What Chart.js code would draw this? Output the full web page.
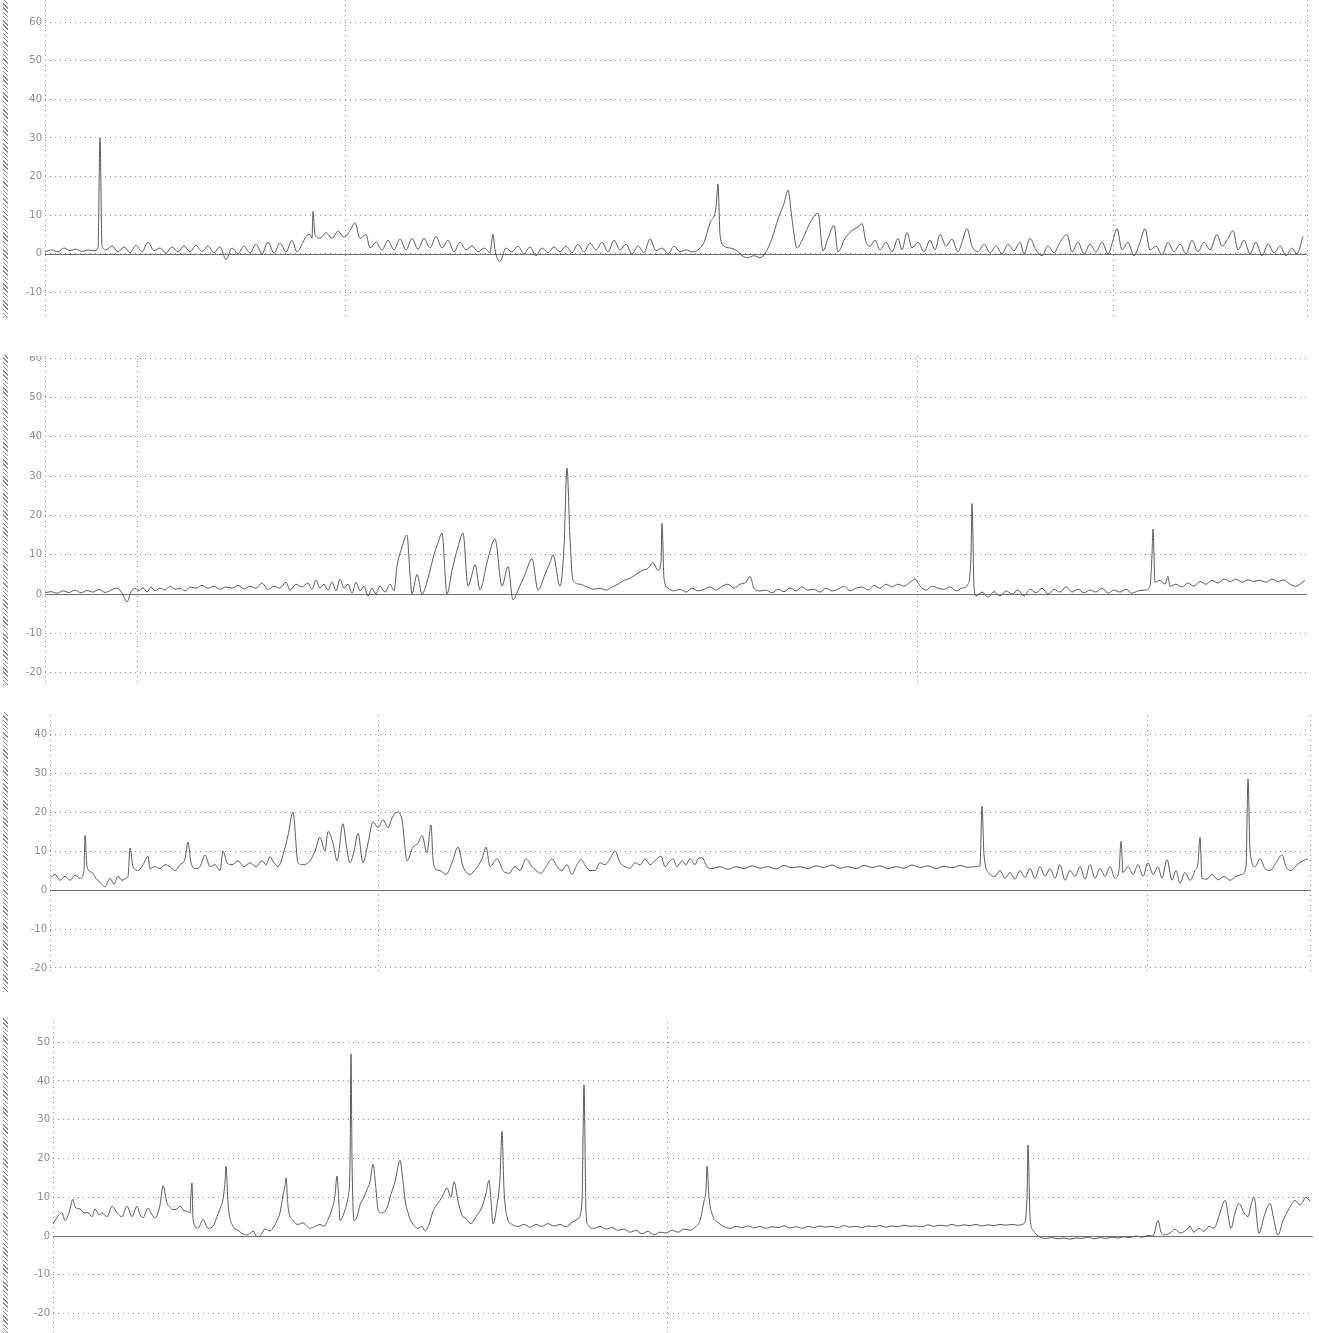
<!DOCTYPE html>
<html>
<head>
<meta charset="utf-8">
<script src="https://cdn.jsdelivr.net/npm/chart.js@4/dist/chart.umd.min.js"></script>
<style>
  html, body { margin: 0; padding: 0; background: #fff; }
  body { position: relative; width: 1319px; height: 1333px; overflow: hidden; }
  canvas { position: absolute; left: 0; }
  .edge {
    position: absolute; left: 3px; width: 5px;
    background: repeating-linear-gradient(45deg, #8a8a8a 0 1px, #fff 1px 3px);
  }
</style>
</head>
<body>
<div class="edge" style="top:0;height:318px"></div>
<div class="edge" style="top:355px;height:330px"></div>
<div class="edge" style="top:712px;height:280px"></div>
<div class="edge" style="top:1018px;height:315px"></div>
<canvas id="p1" width="1319" height="316" style="top:0"></canvas>
<canvas id="p2" width="1319" height="330" style="top:356px"></canvas>
<canvas id="p3" width="1319" height="260" style="top:715px"></canvas>
<canvas id="p4" width="1319" height="311" style="top:1022px"></canvas>
<script>
/* ============================================================
   Four stacked strip-charts, [sample, value] pairs
   ============================================================ */

const samples1 = [
  [0,0.5],[7,1],[13,0.5],[19,1.5],[25,0.8],[31,1.2],[37,0.6],[43,1],[49,0.8],[53,1.5],
  [55,30],[57,2],[61,1],[67,2],[73,0.5],[79,1.8],[85,0.3],[91,2.2],[97,0.5],[103,3],
  [109,0.8],[115,1.5],[121,0.2],[127,1.8],[133,0.5],[139,2],[145,0.5],[151,2.2],[157,0.6],[163,2],
  [169,0.3],[175,1.8],[181,-1.5],[187,1.5],[193,0],[199,2],[205,0.2],[211,2.5],[217,0],[223,3],
  [229,0.2],[235,2.8],[241,0.5],[247,3.5],[252,0.5],[258,3],[261,4.5],[265,5],[267,4],[268,11],
  [270,5],[275,4],[281,5.5],[287,4],[293,5.8],[299,4.3],[305,6],[310,8],[315,4],[321,5],
  [325,1.5],[331,3],[337,1],[343,3.5],[349,1],[355,3.8],[361,1],[367,4],[373,1.2],[379,4],
  [385,1.5],[391,4.5],[397,1.5],[403,3.5],[409,0.5],[415,3],[421,1],[427,2],[433,0.5],[439,1.5],
  [445,0.3],[448,5],[450,1],[455,-2],[461,1.5],[467,0.5],[473,2],[479,0],[485,1.8],[491,-0.5],
  [497,1.5],[503,0.3],[509,1.8],[515,0.5],[521,2],[527,0.3],[533,2.5],[539,0.5],[545,2.8],[551,1],
  [557,3],[563,0.5],[569,3.5],[575,1],[581,2.5],[587,0],[593,2],[599,0.3],[605,3.8],[611,0.8],
  [617,1.5],[623,0],[629,2],[635,0.5],[641,1],[647,0.5],[653,1],[659,3],[665,8],[671,12],
  [673,18],[675,5],[679,2],[685,1.5],[691,1],[697,-0.5],[703,-1],[709,-0.5],[715,-1],[721,0.5],
  [727,4],[733,9],[739,13],[743,16.5],[747,9],[752,1.5],[758,4],[765,8],[773,10.5],[778,0.8],
  [783,4],[789,7.3],[793,0.5],[800,4],[807,6],[813,7],[817,7.8],[821,3],[825,2],[830,3.5],
  [835,1],[841,3],[847,0.5],[853,4],[857,1],[862,5.5],[867,1.5],[873,3],[879,0.5],[885,3.5],
  [890,1],[895,5],[901,2],[907,3.8],[913,0.5],[917,3],[922,6.5],[927,2],[933,0.5],[939,2.5],
  [945,0.3],[951,2],[957,0],[963,2.5],[969,0.8],[975,3],[979,0],[985,4],[991,1],[997,-0.5],
  [1003,2],[1009,0.3],[1015,3],[1022,5],[1027,0.5],[1033,3],[1039,0],[1045,2.5],[1051,0.5],[1057,3],
  [1063,0],[1068,3.5],[1072,6.5],[1077,1],[1083,3],[1089,-0.5],[1095,3],[1100,6.5],[1105,1],[1111,2],
  [1117,-0.3],[1123,3],[1129,0.5],[1135,2.5],[1141,0],[1147,3.5],[1153,0.5],[1159,3],[1165,1],[1172,5],
  [1177,2],[1183,4],[1188,6],[1193,1],[1199,3.5],[1205,0],[1211,3],[1217,-0.5],[1223,2.5],[1229,0.3],
  [1235,2],[1241,-0.5],[1247,1.5],[1252,0],[1258,4.5],
];

const samples2 = [
  [0,0.3],[6,0.6],[12,0.2],[18,0.8],[24,0.4],[30,1],[36,0.3],[42,0.9],[48,0.5],[54,1.2],
  [60,0.4],[66,1],[72,1.5],[77,0.3],[82,-2],[86,0.5],[90,1.5],[94,0.8],[98,1.6],[102,0.5],
  [106,1.8],[110,0.8],[115,1.5],[120,1],[125,2],[130,1.2],[135,1.5],[140,0.8],[145,1.8],[151,1.5],
  [157,2.2],[163,1.5],[169,2],[175,1.2],[181,1.8],[187,1.5],[193,2.2],[199,1.3],[205,2],[211,1.5],
  [217,2.8],[223,1.2],[229,2],[235,1.5],[241,3],[245,1],[251,2.5],[257,1.8],[263,2.8],[267,1.2],
  [271,3.5],[275,1.5],[279,2.5],[283,1],[287,3],[291,0.8],[295,3.8],[299,1.5],[303,2.5],[307,0.2],
  [311,3],[315,0.8],[319,2],[323,-0.5],[327,1.5],[331,0],[335,2],[340,0.5],[345,2.5],[349,0.8],
  [352,7],[357,12],[362,15],[365,5],[367,0],[372,5],[377,0],[383,4],[389,10],[393,13],
  [397,15.5],[402,0],[407,6],[413,12],[418,15.5],[423,2],[427,5],[430,7.5],[435,1],[442,8],
  [450,14],[457,2],[463,7],[468,-1.5],[473,1],[480,5],[487,9],[493,1],[500,5],[505,8],
  [508,10],[515,2],[519,12],[522,32],[525,14],[528,3.5],[535,2.5],[542,1.8],[549,1.2],[555,1.5],
  [561,1],[567,1.8],[573,2.5],[579,3.5],[585,4],[591,5],[597,6],[603,6.5],[608,8],[613,6],
  [616,8],[617,18],[619,4],[623,1.5],[629,0.8],[635,1.2],[641,0.5],[647,1.5],[653,0.8],[659,1.2],
  [665,1.8],[671,1],[677,2],[683,2.5],[689,1.5],[695,2.5],[701,3],[705,4.5],[709,1.5],[715,0.8],
  [721,1],[727,0.3],[733,1.2],[739,0.6],[745,1.5],[751,0.8],[757,1.8],[763,1],[769,1.2],[775,0.5],
  [781,1.5],[787,0.8],[793,1.2],[799,2],[805,0.8],[811,1.5],[817,1.8],[823,1],[829,2.2],[835,1.5],
  [841,2.5],[847,1.8],[853,2.5],[859,2],[865,3],[870,3.8],[875,2],[881,1],[887,2],[893,1.5],
  [899,1.2],[905,1.8],[911,0.8],[917,1.5],[923,2.5],[926,10],[927,23],[929,2],[931,-0.5],[937,0.5],
  [943,-0.8],[949,0.6],[955,-0.5],[961,0.8],[967,0],[973,1],[979,-0.5],[985,1.2],[991,0.3],[997,1.5],
  [1003,0],[1009,1.2],[1015,0.5],[1021,1.8],[1027,0.5],[1033,1.2],[1039,0.3],[1045,1],[1051,0.5],[1057,1.5],
  [1063,0.2],[1069,1],[1075,0.5],[1081,1.2],[1087,0.2],[1093,0.8],[1099,1],[1105,2],[1107,10],[1108,16.5],
  [1110,3],[1115,3.5],[1120,2.5],[1123,4.5],[1125,2],[1131,2.5],[1137,1.8],[1143,2.8],[1149,2],[1155,3.2],
  [1161,2.5],[1167,3.5],[1173,2.8],[1179,3.8],[1185,3.2],[1191,3.8],[1197,3],[1203,3.6],[1209,3.2],[1215,3.5],
  [1221,3],[1227,3.8],[1233,3.2],[1239,3.6],[1245,2.5],[1251,2],[1255,2.5],[1260,3.5],
];

const samples3 = [
  [0,3],[5,4],[10,2.5],[15,3.5],[20,2.5],[25,3.8],[30,3],[34,5],[35,14],[37,6],
  [42,4.5],[46,3],[50,2],[55,0.8],[60,3],[64,1.5],[68,3.5],[72,2.5],[76,3],[78,3.5],
  [80,10.8],[83,6],[88,5],[93,6.5],[98,8.7],[100,5.5],[105,6],[110,5.5],[115,6.5],[120,6],
  [125,5],[130,6.5],[135,8],[138,12.3],[141,7],[146,5.5],[150,6],[155,9],[160,6],[165,6.5],
  [170,5],[173,10],[177,7],[182,6.5],[188,7.5],[194,6],[200,7],[206,6],[212,7.5],[216,6.5],
  [220,8.5],[224,7],[228,6],[233,9],[238,14],[243,20],[248,7],[253,6.5],[260,7.5],[265,10],
  [270,13.5],[275,10],[278,15],[283,12],[287,7.5],[293,17],[296,12],[300,7],[304,10],[308,14.5],
  [313,7],[318,12],[323,17.5],[328,16],[333,18],[338,16],[342,18.5],[347,20],[352,18],[357,7.5],
  [363,11],[368,12],[372,14],[377,9.5],[381,16.7],[383,8],[385,5.5],[390,5],[396,4],[402,7],
  [408,11],[413,6],[420,4],[426,5.5],[432,8],[436,11],[440,6],[447,8],[453,5],[459,4.3],
  [465,6],[470,5],[476,8],[482,6],[486,5],[491,4.3],[496,6],[502,8],[507,6],[512,5],
  [517,6.5],[522,4],[526,6],[531,7.8],[536,6],[540,5],[545,5],[550,7],[555,6.5],[560,8],
  [565,10],[570,7],[575,6],[580,5.6],[585,7],[590,6.5],[595,8],[600,6.5],[605,7.5],[611,8.7],
  [615,6],[620,7.5],[623,8],[627,6],[632,7.5],[636,6.5],[640,8],[645,6.5],[648,8],[652,8.3],
  [657,6],[662,5.5],[670,6],[678,5.3],[686,6],[694,5.5],[702,6.2],[710,5.6],[718,6],[726,5.4],
  [734,6.3],[742,5.7],[750,6],[758,5.5],[766,6.2],[774,5.8],[782,6.4],[790,5.6],[798,6],[806,5.5],
  [814,6.3],[822,5.8],[830,6.2],[838,5.5],[846,6],[854,5.6],[862,6.4],[870,5.8],[878,6.2],[886,5.5],
  [894,6.1],[902,5.7],[910,6.3],[918,5.8],[925,6],[930,6.2],[932,21.5],[934,9],[939,4.3],[945,3.5],
  [950,5],[955,3],[960,4.5],[965,2.8],[970,5],[975,3.2],[980,5.5],[985,3],[990,6],[995,3.5],
  [1000,5.5],[1005,3],[1010,6.5],[1015,2.5],[1020,5],[1025,3.5],[1030,6],[1035,2.8],[1040,6.5],[1045,3],
  [1050,5.5],[1055,3.5],[1060,6],[1065,3],[1069,5],[1071,12.5],[1073,4.5],[1078,6],[1083,4],[1088,6.5],
  [1093,3.5],[1098,7],[1103,4],[1108,6],[1112,3],[1117,7.8],[1122,2.5],[1126,5],[1130,1.7],[1135,4.5],
  [1140,2.5],[1145,5],[1148,7],[1150,13.5],[1152,3],[1157,2.8],[1162,4],[1168,2.6],[1174,3.5],[1180,2.5],
  [1186,3.5],[1192,4],[1196,6],[1198,28.5],[1200,10],[1205,6],[1210,8],[1215,5.5],[1220,5],[1226,7],
  [1232,9],[1236,6],[1241,5],[1247,6.5],[1253,7.5],[1258,8],
];

const samples4 = [
  [0,3],[2,4],[6,5.5],[9,6],[12,4],[16,6],[20,9.5],[22,7.5],[27,7],[31,6],
  [35,6],[39,5],[42,7],[46,5.5],[49,6],[54,5],[59,7.7],[64,6],[69,5],[74,7.7],
  [79,5],[84,7.7],[87,5.5],[90,4.7],[95,7.2],[99,5.5],[102,4.7],[107,8],[110,13],[114,8.5],
  [117,7.5],[120,6.8],[124,7],[127,7.7],[131,6.5],[134,6.4],[137,6],[138,11],[139,13.7],[140,4.3],
  [145,2],[150,4.3],[155,2],[160,2.5],[164,5],[167,7],[170,9.5],[172,14],[173,18],[175,8.5],
  [180,2.5],[185,1.5],[190,0.5],[195,0.3],[200,1.3],[204,-0.2],[207,0],[212,1.8],[217,1.3],[221,2.5],
  [224,4],[227,6],[230,10.5],[232,13],[233,15],[235,7.7],[240,4],[245,3],[250,3.4],[254,2.5],
  [257,2],[262,2.5],[267,3],[271,2.5],[275,4.3],[279,7],[282,10.5],[284,15.5],[286,8],[287,4],
  [292,6.8],[295,10],[297,18],[298,47],[299,20],[301,4],[304,5],[307,8],[311,10],[314,12],
  [317,14],[320,18.5],[323,12],[325,6.8],[329,6],[332,6.4],[335,8],[337,10],[342,14],[347,19.5],
  [350,14],[352,9.4],[355,6],[359,3.4],[362,2.5],[365,2],[369,2.5],[372,1.3],[376,3],[380,6.4],
  [385,8.5],[389,10],[394,12.4],[398,10],[401,14],[405,9],[409,5.4],[413,4.5],[418,3.2],[423,5],
  [429,7.5],[433,11],[436,14.4],[438,9],[440,3.2],[444,8],[447,15],[449,27],[451,12],[454,5],
  [459,3],[465,2.5],[471,3],[477,2.3],[483,3],[489,2.5],[495,3.2],[501,2.6],[507,3],[513,2.4],
  [519,3.5],[525,4.5],[529,9],[531,39],[533,6],[535,2.8],[541,2],[547,2.5],[553,1.8],[559,2.2],
  [565,1.5],[571,1.8],[577,1],[583,1.5],[589,0.6],[595,1.2],[601,0.3],[607,1],[613,0.8],[619,1.5],
  [625,1],[631,1.8],[637,1.5],[643,2.5],[647,4],[651,9],[653,12],[654,18],[656,10],[660,5],
  [665,3.5],[671,2.4],[677,2],[683,2.5],[689,2.2],[695,2.6],[701,2.1],[707,2.5],[713,2],[719,2.4],
  [725,2.2],[731,2.6],[737,2.1],[743,2.4],[749,2],[755,2.5],[761,2.2],[767,2.6],[773,2.3],[779,2.5],
  [785,2.1],[791,2.7],[797,2.3],[803,2.5],[809,2.2],[815,2.6],[821,2.4],[827,2.7],[833,2.3],[839,2.6],
  [845,2.4],[851,2.8],[857,2.5],[863,2.6],[869,2.4],[875,2.9],[881,2.5],[887,2.8],[893,2.6],[899,3],
  [905,2.6],[911,2.9],[917,2.7],[923,3],[929,2.6],[935,2.9],[941,2.7],[947,3],[953,2.8],[959,3],
  [965,2.8],[971,3.2],[974,10],[975,23.5],[977,5],[980,1.5],[983,0.5],[987,-0.3],[993,-0.6],[999,-0.4],
  [1005,-0.7],[1011,-0.5],[1017,-0.8],[1023,-0.5],[1029,-0.6],[1035,-0.3],[1041,-0.7],[1047,-0.4],[1053,-0.6],[1059,-0.3],
  [1065,-0.5],[1071,-0.2],[1077,-0.4],[1083,0],[1089,-0.3],[1095,0.2],[1100,0],[1105,4],[1108,1],[1111,0.3],
  [1117,0.8],[1122,1.8],[1127,0.8],[1133,1.5],[1137,2.5],[1141,1],[1146,2],[1151,1.2],[1156,2.5],[1161,2],
  [1167,6],[1172,9.2],[1178,2],[1182,6],[1186,8.4],[1191,6],[1195,5],[1198,8],[1201,10],[1206,0.7],
  [1211,5],[1217,8.4],[1221,4],[1225,0.3],[1230,4],[1236,7],[1242,9.2],[1247,8],[1253,10],[1257,9],
];

// vertical dotted marks (sample numbers): axis edge + day boundaries
const marks1 = [0, 300, 1068, 1262];
const marks2 = [0, 92, 872];
const marks3 = [0, 328, 1097, 1260];
const marks4 = [0, 614];

// y tick labels
const yTicks1 = [-10, 0, 10, 20, 30, 40, 50, 60];
const yTicks2 = [-20, -10, 0, 10, 20, 30, 40, 50, 60];
const yTicks3 = [-20, -10, 0, 10, 20, 30, 40];
const yTicks4 = [-20, -10, 0, 10, 20, 30, 40, 50];

const GRID_COLOR = '#8a8a8a';
const LINE_COLOR = '#5a5a5a';
const TEXT_COLOR = '#8c8c8c';

/* ------------------------------------------------------------
   Solid zero line across the plot area
   ------------------------------------------------------------ */
const zeroLine = {
  id: 'zeroLine',
  beforeDatasetsDraw(chart) {
    const { ctx, chartArea, scales } = chart;
    const y = Math.round(scales.y.getPixelForValue(0)) + 0.5;
    ctx.save();
    ctx.strokeStyle = '#707070';
    ctx.lineWidth = 1;
    ctx.beginPath();
    ctx.moveTo(chartArea.left, y);
    ctx.lineTo(chartArea.right, y);
    ctx.stroke();
    ctx.restore();
  },
};

/* ------------------------------------------------------------
   Chart factory
   ------------------------------------------------------------ */
function makeChart(id, samples, marks, yTicks, opts) {
  const ctx = document.getElementById(id).getContext('2d');
  return new Chart(ctx, {
    type: 'line',
    data: {
      datasets: [{
        data: samples.map(([x, y]) => ({ x, y })),
        borderColor: LINE_COLOR,
        borderWidth: 1,
        pointRadius: 0,
        cubicInterpolationMode: 'monotone',
        fill: false,
      }],
    },
    options: {
      responsive: false,
      animation: false,
      events: [],
      layout: { padding: { left: 0, top: 0, bottom: 0, right: opts.padRight } },
      plugins: { legend: { display: false }, tooltip: { enabled: false } },
      scales: {
        x: {
          type: 'linear',
          min: 0,
          max: opts.xMax,
          afterBuildTicks: (s) => { s.ticks = marks.map((v) => ({ value: v })); },
          afterFit: (s) => { s.height = 0; s.paddingLeft = 0; s.paddingRight = 0; },
          ticks: { display: false },
          grid: { color: GRID_COLOR, lineWidth: 1, drawTicks: false },
          border: { display: false, dash: [1, 4] },
        },
        y: {
          min: opts.yMin,
          max: opts.yMax,
          afterBuildTicks: (s) => { s.ticks = yTicks.map((v) => ({ value: v })); },
          afterFit: (s) => { s.width = opts.axisWidth; s.paddingTop = 0; s.paddingBottom = 0; },
          ticks: {
            color: TEXT_COLOR,
            padding: 3,
            font: { family: 'DejaVu Sans', size: 10 },
          },
          grid: { color: GRID_COLOR, lineWidth: 1, drawTicks: false },
          border: { display: false, dash: [1, 4] },
        },
      },
    },
    plugins: [zeroLine],
  });
}

makeChart('p1', samples1, marks1, yTicks1, { xMax: 1262, yMin: -16.1, yMax: 65.7, axisWidth: 45, padRight: 12 });
makeChart('p2', samples2, marks2, yTicks2, { xMax: 1262, yMin: -23.4, yMax: 60.56, axisWidth: 45, padRight: 12 });
makeChart('p3', samples3, marks3, yTicks3, { xMax: 1260, yMin: -21.8, yMax: 44.9, axisWidth: 50, padRight: 9 });
makeChart('p4', samples4, marks4, yTicks4, { xMax: 1260, yMin: -25, yMax: 55.2, axisWidth: 53, padRight: 6 });
</script>
</body>
</html>
